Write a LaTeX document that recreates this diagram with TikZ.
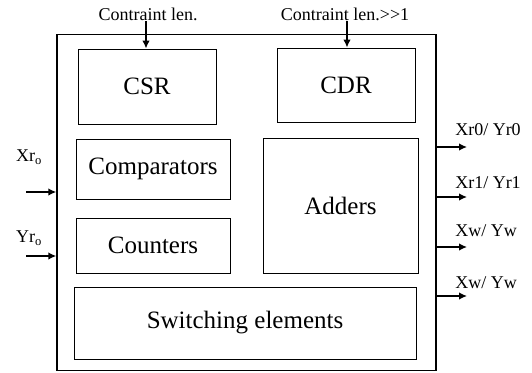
\documentclass[tikz,border=0pt]{standalone}
\usepackage{fontspec}
\setmainfont{Liberation Serif}
\usetikzlibrary{arrows.meta}
\begin{document}
\begin{tikzpicture}[x=1pt,y=-1pt,
  blk/.style={draw,line width=0.8pt,inner sep=0pt,font=\fontsize{25}{28}\selectfont},
  frame/.style={draw,line width=1.4pt,inner sep=0pt},
  lbl/.style={inner sep=0pt,font=\fontsize{18}{20}\selectfont},
  arr/.style={line width=1.5pt,-{Latex[length=8pt,width=7.5pt]}}]
\useasboundingbox (0,0) rectangle (532,372);
% outer chip boundary
\node[frame,minimum width=379pt,minimum height=336pt] (chip) at (246.5,202.5) {};
% functional blocks
\node[blk,minimum width=138pt,minimum height=75pt] (csr) at (147,86.5) {CSR};
\node[blk,minimum width=138pt,minimum height=74pt] (cdr) at (346,85) {CDR};
\node[blk,minimum width=154pt,minimum height=60pt] (cmp) at (153,169) {Comparators};
\node[blk,minimum width=154pt,minimum height=55pt] (cnt) at (153,245.5) {Counters};
\node[blk,minimum width=155pt,minimum height=135pt] (add) at (340.5,205.5) {Adders};
\node[blk,minimum width=342pt,minimum height=72pt] (sw) at (245,323) {Switching elements};
% control inputs from the top
\node[lbl] (cl1) at (148,14) {Contraint len.};
\node[lbl] (cl2) at (345,14) {Contraint len.{>}{>}1};
\coordinate (t1) at (146,21);
\coordinate (t2) at (347,21);
\draw[arr] (t1) -- (t1 |- csr.north);
\draw[arr] (t2) -- (t2 |- cdr.north);
% inputs on the left
\node[lbl] (xin) at (29,157) {Xr\textsubscript{o}};
\node[lbl] (yin) at (29,238) {Yr\textsubscript{o}};
\coordinate (xs) at (26,192);
\coordinate (ys) at (26,256);
\draw[arr] (xs) -- (xs -| chip.west);
\draw[arr] (ys) -- (ys -| chip.west);
% outputs on the right
\coordinate (o1) at (467,147);
\coordinate (o2) at (467,197);
\coordinate (o3) at (467,247);
\coordinate (o4) at (467,296);
\draw[arr] (o1 -| chip.east) -- (o1);
\draw[arr] (o2 -| chip.east) -- (o2);
\draw[arr] (o3 -| chip.east) -- (o3);
\draw[arr] (o4 -| chip.east) -- (o4);
\node[lbl] (q1) at (488,130) {Xr0/ Yr0};
\node[lbl] (q2) at (488,183) {Xr1/ Yr1};
\node[lbl] (q3) at (486,231) {Xw/ Yw};
\node[lbl] (q4) at (486,283) {Xw/ Yw};
\end{tikzpicture}
\end{document}
